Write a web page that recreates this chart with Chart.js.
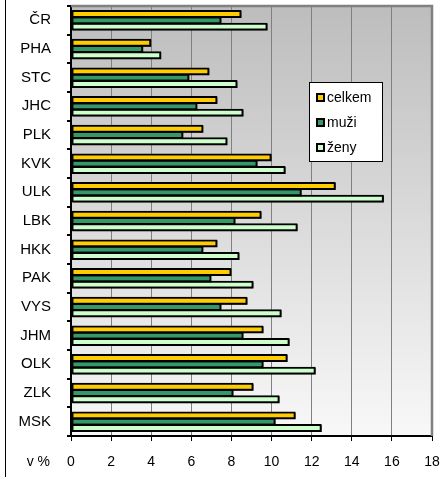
<!DOCTYPE html>
<html>
<head>
<meta charset="utf-8">
<script src="https://cdn.jsdelivr.net/npm/chart.js@4"></script>
<style>
  html, body { margin: 0; padding: 0; background: #fff; }
  #wrap { position: relative; width: 445px; height: 477px; }
</style>
</head>
<body>
<div id="wrap"><canvas id="chart" width="445" height="477"></canvas></div>
<script>
const regions = ["ČR", "PHA", "STC", "JHC", "PLK", "KVK", "ULK", "LBK", "HKK", "PAK", "VYS", "JHM", "OLK", "ZLK", "MSK"];
const celkem = [8.5, 4.0, 6.9, 7.3, 6.6, 10.0, 13.2, 9.5, 7.3, 8.0, 8.8, 9.6, 10.8, 9.1, 11.2];
const muzi   = [7.5, 3.6, 5.9, 6.3, 5.6, 9.3, 11.5, 8.2, 6.6, 7.0, 7.5, 8.6, 9.6, 8.1, 10.2];
const zeny   = [9.8, 4.5, 8.3, 8.6, 7.8, 10.7, 15.6, 11.3, 8.4, 9.1, 10.5, 10.9, 12.2, 10.4, 12.5];
const seriesNames = ["celkem", "muži", "ženy"];
const xTicks = [0, 2, 4, 6, 8, 10, 12, 14, 16, 18];

const FONT = "'Liberation Sans', Arial, sans-serif";

// pozadí grafu + rámeček
const plotBg = {
  id: "plotBg",
  beforeDraw(chart) {
    const { ctx, chartArea: a } = chart;
    ctx.save();
    const g = ctx.createLinearGradient(0, a.top, 0, a.bottom);
    g.addColorStop(0, "#bdbdbd");
    g.addColorStop(1, "#f8f8f8");
    ctx.fillStyle = g;
    ctx.fillRect(a.left, a.top, a.right - a.left, a.bottom - a.top);
    // levá čára rámu
    ctx.strokeStyle = "#000";
    ctx.lineWidth = 1;
    ctx.beginPath();
    ctx.moveTo(5.5, 0);
    ctx.lineTo(5.5, 477);
    ctx.stroke();
    ctx.restore();
  },
  beforeDatasetsDraw(chart) {
    const { ctx } = chart;
    ctx.save();
    ctx.shadowColor = "rgba(0,0,0,0.85)";
    ctx.shadowOffsetX = 1;
    ctx.shadowOffsetY = 1;
    ctx.shadowBlur = 0;
  },
  afterDatasetsDraw(chart) {
    const { ctx, chartArea: a } = chart;
    ctx.restore();
    ctx.save();
    ctx.strokeStyle = "#808080";
    ctx.lineWidth = 2.5;
    ctx.beginPath();
    ctx.moveTo(a.left, a.top);
    ctx.lineTo(a.right, a.top);
    ctx.lineTo(a.right, a.bottom);
    ctx.stroke();
    ctx.restore();
  }
};

// popisek "v %" a legenda
const extras = {
  id: "extras",
  afterDraw(chart) {
    const { ctx } = chart;
    ctx.save();
    ctx.font = "14px " + FONT;
    ctx.fillStyle = "#000";
    ctx.textAlign = "right";
    ctx.textBaseline = "middle";
    ctx.fillText("v %", 50, 462);

    // legenda
    const bx = 309, by = 82, bw = 73, bh = 79;
    ctx.fillStyle = "#fff";
    ctx.fillRect(bx, by, bw, bh);
    ctx.strokeStyle = "#000";
    ctx.lineWidth = 1;
    ctx.strokeRect(bx + 0.5, by + 0.5, bw, bh);
    ctx.textAlign = "left";
    ctx.font = "14px " + FONT;
    chart.data.datasets.forEach((ds, i) => {
      const cy = 97 + i * 25;
      ctx.fillStyle = "#000";
      ctx.fillRect(316, cy - 4, 9, 9);
      ctx.fillStyle = ds.backgroundColor;
      ctx.fillRect(318, cy - 2, 5, 5);
      ctx.fillStyle = "#000";
      ctx.fillText(ds.label, 327, cy + 1);
    });
    ctx.restore();
  }
};

const ctx = document.getElementById("chart").getContext("2d");
new Chart(ctx, {
  type: "bar",
  data: {
    labels: regions,
    datasets: [
      { label: seriesNames[0], data: celkem, backgroundColor: "#FFCC00" },
      { label: seriesNames[1], data: muzi, backgroundColor: "#339966" },
      { label: seriesNames[2], data: zeny, backgroundColor: "#CCFFCC" }
    ].map(d => Object.assign(d, {
      borderColor: "#000",
      borderWidth: 2,
      borderSkipped: false,
      categoryPercentage: 0.66,
      barPercentage: 1.25
    }))
  },
  options: {
    indexAxis: "y",
    responsive: false,
    animation: false,
    layout: { padding: { top: 6, right: 13, left: 0, bottom: 0 } },
    plugins: {
      legend: { display: false },
      tooltip: { enabled: false }
    },
    scales: {
      x: {
        min: 0,
        max: 18,
        afterBuildTicks(scale) {
          scale.ticks = xTicks.map(v => ({ value: v }));
        },
        afterFit(scale) {
          scale.height = 41;
          scale.paddingLeft = 0;
          scale.paddingRight = 0;
        },
        grid: {
          color: "#808080",
          lineWidth: 1,
          tickColor: "#000",
          tickLength: 5,
          drawTicks: true
        },
        border: { color: "#000", width: 2 },
        ticks: {
          font: { family: FONT, size: 14 },
          color: "#000",
          padding: 13,
          maxRotation: 0
        }
      },
      y: {
        afterFit(scale) {
          scale.width = 71;
          scale.paddingTop = 0;
          scale.paddingBottom = 0;
        },
        grid: {
          offset: true,
          drawOnChartArea: false,
          tickColor: "#000",
          tickLength: 4,
          lineWidth: 2
        },
        border: { color: "#000", width: 2 },
        ticks: {
          font: { family: FONT, size: 15 },
          color: "#000",
          padding: 16
        }
      }
    }
  },
  plugins: [plotBg, extras]
});
</script>
</body>
</html>
